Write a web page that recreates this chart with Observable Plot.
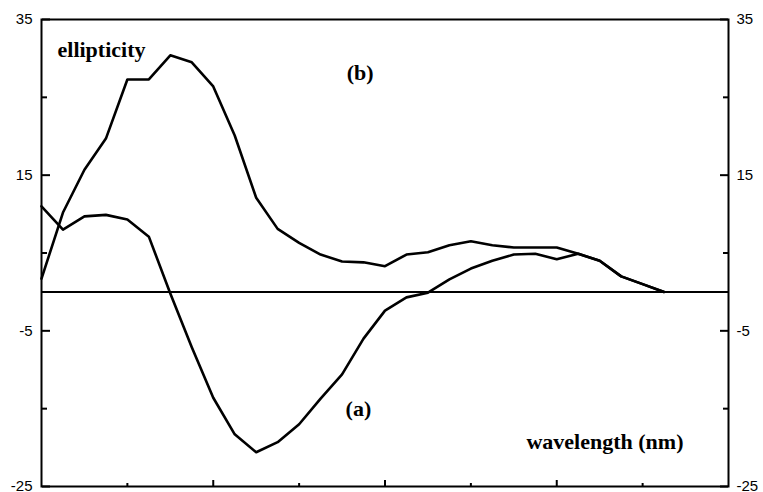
<!DOCTYPE html>
<html>
<head>
<meta charset="utf-8">
<script src="https://cdn.jsdelivr.net/npm/d3@7"></script>
<script src="https://cdn.jsdelivr.net/npm/@observablehq/plot@0.6"></script>
<style>
  html, body { margin: 0; padding: 0; background: #fff; }
</style>
</head>
<body>
<div id="chart"></div>
<script>
// Wavelength sample positions (unlabelled axis in the original)
const wavelength = [200, 202.5, 205, 207.5, 210, 212.5, 215, 217.5, 220, 222.5,
                    225, 227.5, 230, 232.5, 235, 237.5, 240, 242.5, 245, 247.5,
                    250, 252.5, 255, 257.5, 260, 262.5, 265, 267.5, 270, 272.5];
// Curve (a)
const ellipticityA = [11.0, 8.0, 9.7, 9.9, 9.3, 7.1, -0.2, -7.1, -13.6, -18.3,
                      -20.6, -19.3, -17.0, -13.7, -10.6, -6.0, -2.4, -0.7, -0.1, 1.6,
                      3.0, 4.0, 4.8, 4.9, 4.2, 4.9, 4.0, 2.0, 1.0, 0];
// Curve (b)
const ellipticityB = [1.7, 10.2, 15.7, 19.7, 27.3, 27.3, 30.4, 29.5, 26.4, 20.1,
                      12.1, 8.1, 6.3, 4.8, 3.9, 3.8, 3.3, 4.8, 5.1, 6.0,
                      6.5, 6.0, 5.7, 5.7, 5.7, 4.9, 4.0, 2.0, 1.0, 0];

const yMajorTicks = [35, 15, -5, -25];
const yMinorTicks = [25, 5, -15];
const xMajorTicks = [220, 240, 260];
const xMinorTicks = [210, 230, 250, 270];

const seriesLabels = ["(a)", "(b)"];
const labelX = [236.9, 237.1];
const labelY = [-15.0, 28.1];

const rows = [];
wavelength.forEach((w, i) => {
  rows.push({series: "a", w, v: ellipticityA[i]});
  rows.push({series: "b", w, v: ellipticityB[i]});
});
const labels = seriesLabels.map((t, i) => ({t, x: labelX[i], y: labelY[i]}));

const serif = "'Liberation Serif', 'Times New Roman', serif";

const tickOnly = {fill: "none", label: null, strokeWidth: 2};
const textOnly = {stroke: "none", tickSize: 0, label: null, tickFormat: d => String(d), fontSize: 15, letterSpacing: 1};

const chart = Plot.plot({
  width: 763,
  height: 492,
  marginLeft: 41,
  marginRight: 35,
  marginTop: 19,
  marginBottom: 6,
  style: {fontFamily: "'Liberation Sans', Arial, sans-serif", fontSize: "15px", background: "#fff", color: "#000", overflow: "visible"},
  x: {domain: [200, 280], axis: null},
  y: {domain: [-25, 35], axis: null},
  marks: [
    Plot.ruleY([0], {stroke: "#000", strokeWidth: 2}),
    Plot.line(rows, {x: "w", y: "v", z: "series", stroke: "#000", strokeWidth: 2.6, strokeLinejoin: "round"}),
    Plot.frame({stroke: "#000", strokeWidth: 2}),
    // inward ticks
    Plot.axisY({...tickOnly, anchor: "right", frameAnchor: "left", ticks: yMajorTicks, tickSize: 8}),
    Plot.axisY({...tickOnly, anchor: "right", frameAnchor: "left", ticks: yMinorTicks, tickSize: 5}),
    Plot.axisY({...tickOnly, anchor: "left", frameAnchor: "right", ticks: yMajorTicks, tickSize: 8}),
    Plot.axisY({...tickOnly, anchor: "left", frameAnchor: "right", ticks: yMinorTicks, tickSize: 5}),
    Plot.axisX({...tickOnly, anchor: "top", frameAnchor: "bottom", ticks: xMajorTicks, tickSize: 7}),
    Plot.axisX({...tickOnly, anchor: "top", frameAnchor: "bottom", ticks: xMinorTicks, tickSize: 4}),
    // tick labels
    Plot.axisY({...textOnly, anchor: "left", ticks: yMajorTicks, tickPadding: 9}),
    Plot.axisY({...textOnly, anchor: "right", ticks: yMajorTicks, tickPadding: 8}),
    // titles
    Plot.text(["ellipticity"], {frameAnchor: "top-left", dx: 16, dy: 22, textAnchor: "start", fontFamily: serif, fontWeight: "bold", fontSize: 22}),
    Plot.text(["wavelength (nm)"], {frameAnchor: "bottom-right", dx: -45, dy: -38, textAnchor: "end", fontFamily: serif, fontWeight: "bold", fontSize: 22}),
    Plot.text(labels, {x: "x", y: "y", text: "t", fontFamily: serif, fontWeight: "bold", fontSize: 22})
  ]
});
document.getElementById("chart").appendChild(chart);
</script>
</body>
</html>
